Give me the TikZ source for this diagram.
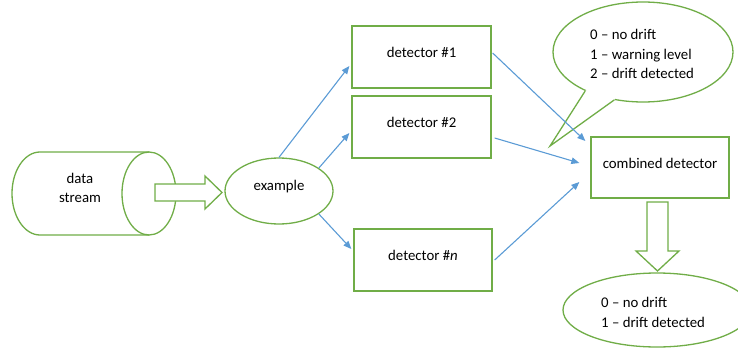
\documentclass[tikz,border=0pt]{standalone}
\usepackage{fontspec}
\setmainfont{Carlito}
\usetikzlibrary{arrows.meta,calc,shapes.geometric}
\definecolor{ogreen}{HTML}{70AD47}
\definecolor{oblue}{HTML}{5B9BD5}
\begin{document}
\begin{tikzpicture}[x=1pt,y=1pt,
  every node/.style={font=\fontsize{14.8}{19.5}\selectfont, text=black},
  gline/.style={draw=ogreen, line width=1.3pt, line join=miter},
  box/.style={gline, rectangle, inner sep=0pt, fill=white},
  oval/.style={gline, ellipse, inner sep=0pt, fill=white},
  conn/.style={draw=oblue, line width=1.1pt, -{Triangle[length=8pt,width=6.5pt]}},
  lbl/.style={inner sep=0pt}]
\useasboundingbox (0,0) rectangle (738,349);
\clip (0,0) rectangle (738,349);
% data stream cylinder
\draw[gline, fill=white] (149,197) -- (40,197) arc[start angle=90,end angle=270,x radius=28,y radius=41.5] -- (149,114);
\draw[gline] (149,155.5) ellipse[x radius=27, y radius=41.5];
\coordinate (cyl) at (149,155.5);
\node[lbl, align=center] (ds) at (80,161) {data\\stream};
% block arrow right
\draw[gline, fill=white] (155,165) -- (205,165) -- (205,173) -- (222,156.5) -- (205,140) -- (205,148) -- (155,148) -- cycle;
% example
\node[oval, minimum width=108, minimum height=66] (ex) at (279,158) {};
\node[lbl] (extext) at (279,162) {example};
% detectors
\node[box, minimum width=139, minimum height=62] (det1) at (421.5,292) {};
\node[lbl] (t1) at (421.5,297) {detector \#1};
\node[box, minimum width=139, minimum height=62] (det2) at (421.5,222) {};
\node[lbl] (t2) at (421.5,227) {detector \#2};
\node[box, minimum width=138, minimum height=62] (detn) at (423,89) {};
\node[lbl] (tn) at (423,94) {detector \#\textit{n}};
% combined
\node[box, minimum width=138, minimum height=61] (comb) at (660,181.5) {};
\node[lbl] (tc) at (660,186) {combined detector};
% callout bubble
\node[oval, minimum width=180, minimum height=100] (bub) at (643,297) {};
\coordinate (pa) at (bub.214);
\coordinate (pb) at (bub.239);
\coordinate (tip) at (550,203);
\fill[white] (tip) -- (pa) -- ($(pa)!0.06!(bub.center)$) -- ($(pb)!0.06!(bub.center)$) -- (pb) -- cycle;
\draw[gline] (pa) -- (tip) -- (pb);
\node[lbl, anchor=west, align=left] (bt) at (590,295) {0 – no drift\\1 – warning level\\2 – drift detected};
% down block arrow
\draw[gline, fill=white] (647,147) -- (647,98) -- (636,98) -- (657.5,78) -- (679,98) -- (668,98) -- (668,147) -- cycle;
% output ellipse
\node[oval, minimum width=188, minimum height=74] (out) at (657,39) {};
\node[lbl, anchor=west, align=left] (ot) at (601,36.5) {0 – no drift\\1 – drift detected};
% connectors
\draw[conn] (ex.north) -- ($(det1.west)+(-2,-9)$);
\draw[conn] (ex.30) -- ($(det2.west)+(-2,-6)$);
\draw[conn] (ex.-30) -- ($(detn.west)+(-2,11)$);
\draw[conn] ($(det1.east)+(1,4)$) -- ($(comb.west)+(-5,26.5)$);
\draw[conn] ($(det2.east)+(3,-11)$) -- ($(comb.west)+(-11,4.5)$);
\draw[conn] ($(detn.east)+(2,0)$) -- ($(comb.west)+(-11,-14.5)$);
\end{tikzpicture}
\end{document}
